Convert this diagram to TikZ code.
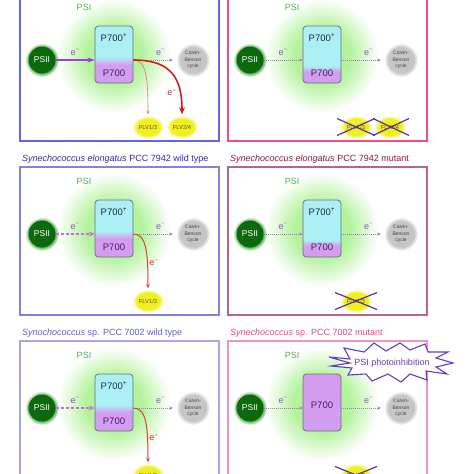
\documentclass[tikz,border=0pt]{standalone}
\usepackage{fontspec}
\setmainfont{Liberation Sans}
\usetikzlibrary{shapes.geometric,arrows.meta,calc}

\definecolor{glowc}{RGB}{178,243,155}
\definecolor{pcyan}{RGB}{172,240,246}
\definecolor{pvio}{RGB}{212,158,240}
\definecolor{pborder}{RGB}{110,110,130}
\definecolor{psiidark}{RGB}{14,104,14}
\definecolor{psiiglow}{RGB}{80,175,80}
\definecolor{calg}{RGB}{198,198,198}
\definecolor{caltext}{RGB}{70,70,70}
\definecolor{yel}{RGB}{240,240,32}
\definecolor{flvtext}{RGB}{95,85,20}
\definecolor{psigreen}{RGB}{80,178,80}
\definecolor{ptopc}{RGB}{30,45,80}
\definecolor{pbotc}{RGB}{75,25,110}
\definecolor{elabc}{RGB}{150,80,200}
\definecolor{esolidc}{RGB}{165,60,215}
\definecolor{edashc}{RGB}{195,110,225}
\definecolor{edotc}{RGB}{165,115,200}
\definecolor{rthickc}{RGB}{212,30,30}
\definecolor{rthinc}{RGB}{230,120,90}
\definecolor{rmedc}{RGB}{222,65,45}
\definecolor{rlabc}{RGB}{210,50,55}
\definecolor{xc}{RGB}{90,50,170}
\definecolor{tlcol}{RGB}{100,100,230}
\definecolor{trcol}{RGB}{236,80,130}
\definecolor{mlcol}{RGB}{130,130,225}
\definecolor{mrcol}{RGB}{185,100,135}
\definecolor{blcol}{RGB}{165,165,240}
\definecolor{brcol}{RGB}{242,145,200}
\definecolor{mlcap}{RGB}{45,45,160}
\definecolor{mrcap}{RGB}{135,25,65}
\definecolor{blcap}{RGB}{95,95,195}
\definecolor{brcap}{RGB}{235,70,130}
\definecolor{burstc}{RGB}{100,60,190}
\definecolor{bursttext}{RGB}{110,60,180}

\pgfdeclareradialshading{glow}{\pgfpointorigin}{color(0bp)=(glowc); color(12bp)=(glowc); color(25bp)=(white); color(50bp)=(white)}
\pgfdeclareradialshading{gglow}{\pgfpointorigin}{color(0bp)=(psiiglow); color(19bp)=(psiiglow); color(25bp)=(white); color(50bp)=(white)}
\pgfdeclareradialshading{cglow}{\pgfpointorigin}{color(0bp)=(calg); color(19bp)=(calg); color(25bp)=(white); color(50bp)=(white)}
\pgfdeclareradialshading{yglow}{\pgfpointorigin}{color(0bp)=(yel); color(18bp)=(yel); color(25bp)=(white); color(50bp)=(white)}
\pgfdeclareverticalshading{pwt}{100bp}{color(0bp)=(pvio); color(41bp)=(pvio); color(48bp)=(pcyan); color(100bp)=(pcyan)}
\pgfdeclareverticalshading{pmut}{100bp}{color(0bp)=(pvio); color(35bp)=(pvio); color(40bp)=(pcyan); color(100bp)=(pcyan)}

\newcommand\myelec{e\textsuperscript{−}}

\tikzset{
  pslabel/.style={text=psigreen, font=\fontsize{9}{9}\selectfont, inner sep=0pt},
  psiinode/.style={circle, fill=psiidark, text=white, minimum size=27pt, inner sep=0pt, font=\fontsize{8.5}{8.5}\selectfont},
  calnode/.style={circle, minimum size=28pt, inner sep=0pt, align=center, text=caltext, font=\fontsize{5}{6.5}\selectfont},
  pbox/.style={rectangle, rounded corners=3.5pt, minimum width=38pt, minimum height=57pt, draw=pborder, line width=0.8pt, inner sep=0pt},
  ptop/.style={anchor=base, text=ptopc, font=\fontsize{9.5}{9.5}\selectfont, inner sep=0pt},
  pbot/.style={anchor=base, text=pbotc, font=\fontsize{9.5}{9.5}\selectfont, inner sep=0pt},
  flv/.style={ellipse, minimum width=24pt, minimum height=17pt, inner sep=0pt, text=flvtext, font=\fontsize{5.8}{5.8}\selectfont},
  esolid/.style={draw=esolidc, line width=1.3pt, -{Stealth[length=7pt,width=5pt]}},
  edash/.style={draw=edashc, line width=1.1pt, dash pattern=on 3pt off 2pt, -{Stealth[length=6pt,width=5pt]}},
  edot/.style={draw=edotc, line width=0.7pt, dash pattern=on 1pt off 1pt, -{Stealth[length=3.5pt,width=3pt]}},
  rthick/.style={draw=rthickc, line width=1.6pt, shorten >=4pt, -{Stealth[length=7pt,width=6pt]}},
  rthin/.style={draw=rthinc, line width=0.6pt, shorten >=4pt, -{Stealth[length=3.5pt,width=3pt]}},
  rmed/.style={draw=rmedc, line width=1pt, shorten >=4pt, -{Stealth[length=4.5pt,width=3.5pt]}},
  elab/.style={midway, above=4pt, inner sep=0pt, text=elabc, font=\fontsize{9}{9}\selectfont},
  rlab/.style={inner sep=0pt, text=rlabc, font=\fontsize{9}{9}\selectfont},
  xcross/.style={draw=xc, line width=1.2pt},
  capt/.style={anchor=base west, inner sep=0pt, font=\fontsize{9}{9}\selectfont},
}

\newcommand\panelbase[3]{%
  \draw[line width=1.5pt, #2] (20,-7) rectangle (219,141);
  \shade[shading=glow] (114,56) circle (57pt);
  \node[pslabel] (#1psi) at (84,7.5) {PSI};
  \shade[shading=gglow] (42,60) circle (17pt);
  \node[psiinode] (#1psii) at (42,60) {PSII};
  \shade[shading=cglow] (193,60) circle (17pt);
  \node[calnode] (#1cal) at (193,60) {Calvin-\\Benson\\cycle};
  \node[pbox, #3] (#1p) at (114,54.5) {};
}
\newcommand\flvglow[2]{\shade[shading=yglow] (#1,#2) ellipse [x radius=16pt, y radius=11.5pt];}

\begin{document}
\begin{tikzpicture}[x=1pt,y=-1pt]
\clip (0,0) rectangle (474,474);
\fill[white] (0,0) rectangle (474,474);

% ---------- top left ----------
\panelbase{a}{tlcol}{shading=pwt}
\node[ptop] (apt) at (114,41) {P700\textsuperscript{+}};
\node[pbot] (apb) at (114,76) {P700};
\flvglow{148}{127}\flvglow{182}{127}
\node[flv] (aflva) at (148,127) {FLV1/3};
\node[flv] (aflvb) at (182,127) {FLV2/4};
\draw[esolid] (apsii.east) -- node[elab]{\myelec} (apsii.east -| ap.west);
\draw[edot, shorten >=6pt] (ap.east |- acal.west) -- node[elab, pos=0.6]{\myelec} (acal.west);
\draw[rthin] (ap.east |- acal.west) .. controls +(13,0) and +(0,-40) .. (aflva.north);
\draw[rthick] (ap.east |- acal.west) .. controls +(38,0) and +(0,-40) .. (aflvb.north);
\node[rlab] (ar) at (172,93) {\myelec};

% ---------- top right ----------
\begin{scope}[shift={(208,0)}]
\panelbase{b}{trcol}{shading=pmut}
\node[ptop] (bpt) at (114,41) {P700\textsuperscript{+}};
\node[pbot] (bpb) at (114,76) {P700};
\flvglow{148}{127}\flvglow{182}{127}
\node[flv] (bflva) at (148,127) {FLV1/3};
\node[flv] (bflvb) at (182,127) {FLV2/4};
\draw[edot] (bpsii.east) -- node[elab]{\myelec} (bpsii.east -| bp.west);
\draw[edot, shorten >=6pt] (bp.east |- bcal.west) -- node[elab, pos=0.6]{\myelec} (bcal.west);
\draw[xcross] ([shift={(-19,-8.5)}]bflva.center) -- ([shift={(19,8.5)}]bflva.center);
\draw[xcross] ([shift={(-19,8.5)}]bflva.center) -- ([shift={(19,-8.5)}]bflva.center);
\draw[xcross] ([shift={(-17,-8.5)}]bflvb.center) -- ([shift={(19,8.5)}]bflvb.center);
\draw[xcross] ([shift={(-17,8.5)}]bflvb.center) -- ([shift={(19,-8.5)}]bflvb.center);
\end{scope}

% ---------- captions row 2 ----------
\node[capt, text=mlcap] (cap1) at (22,161.5) {\textit{Synechococcus elongatus} PCC 7942 wild type};
\node[capt, text=mrcap] (cap2) at (230,161.5) {\textit{Synechococcus elongatus} PCC 7942 mutant};

% ---------- middle left ----------
\begin{scope}[shift={(0,174)}]
\panelbase{c}{mlcol}{shading=pwt}
\node[ptop] (cpt) at (114,41) {P700\textsuperscript{+}};
\node[pbot] (cpb) at (114,76) {P700};
\flvglow{148}{127}
\node[flv] (cflva) at (148,127) {FLV1/3};
\draw[edash] (cpsii.east) -- node[elab]{\myelec} (cpsii.east -| cp.west);
\draw[edot, shorten >=6pt] (cp.east |- ccal.west) -- node[elab, pos=0.6]{\myelec} (ccal.west);
\draw[rmed] (cp.east |- ccal.west) .. controls +(13,0) and +(0,-40) .. (cflva.north);
\node[rlab] (cr) at (154,89) {\myelec};
\end{scope}

% ---------- middle right ----------
\begin{scope}[shift={(208,174)}]
\panelbase{d}{mrcol}{shading=pmut}
\node[ptop] (dpt) at (114,41) {P700\textsuperscript{+}};
\node[pbot] (dpb) at (114,76) {P700};
\flvglow{148}{127}
\node[flv] (dflva) at (148,127) {FLV1/3};
\draw[edot] (dpsii.east) -- node[elab]{\myelec} (dpsii.east -| dp.west);
\draw[edot, shorten >=6pt] (dp.east |- dcal.west) -- node[elab, pos=0.6]{\myelec} (dcal.west);
\draw[xcross] ([shift={(-21,-8.5)}]dflva.center) -- ([shift={(21,8.5)}]dflva.center);
\draw[xcross] ([shift={(-21,8.5)}]dflva.center) -- ([shift={(21,-8.5)}]dflva.center);
\end{scope}

% ---------- captions row 3 ----------
\node[capt, text=blcap] (cap3) at (22,335.5) {\textit{Synochococcus} sp. PCC 7002 wild type};
\node[capt, text=brcap] (cap4) at (230,335.5) {\textit{Synechococcus} sp. PCC 7002 mutant};

% ---------- bottom left ----------
\begin{scope}[shift={(0,348)}]
\panelbase{e}{blcol}{shading=pwt}
\node[ptop] (ept) at (114,41) {P700\textsuperscript{+}};
\node[pbot] (epb) at (114,76) {P700};
\flvglow{148}{127}
\node[flv] (eflva) at (148,127) {FLV1/3};
\draw[edash] (epsii.east) -- node[elab]{\myelec} (epsii.east -| ep.west);
\draw[edot, shorten >=6pt] (ep.east |- ecal.west) -- node[elab, pos=0.6]{\myelec} (ecal.west);
\draw[rmed] (ep.east |- ecal.west) .. controls +(13,0) and +(0,-40) .. (eflva.north);
\node[rlab] (er) at (154,90) {\myelec};
\end{scope}

% ---------- bottom right ----------
\begin{scope}[shift={(208,348)}]
\panelbase{f}{brcol}{fill=pvio}
\node[pbot] (fpb) at (114,60) {P700};
\flvglow{148}{127}
\node[flv] (fflva) at (148,127) {FLV1/3};
\draw[edot] (fpsii.east) -- node[elab]{\myelec} (fpsii.east -| fp.west);
\draw[edot, shorten >=6pt] (fp.east |- fcal.west) -- node[elab, pos=0.6]{\myelec} (fcal.west);
\draw[xcross] ([shift={(-21,-8.5)}]fflva.center) -- ([shift={(21,8.5)}]fflva.center);
\draw[xcross] ([shift={(-21,8.5)}]fflva.center) -- ([shift={(21,-8.5)}]fflva.center);
\end{scope}

% ---------- starburst ----------
\draw[fill=white, draw=burstc, line width=1.1pt, line join=miter]
 (329,357) -- (350,359) -- (344,348) -- (364,352) -- (374,343) -- (386,351) --
 (400,343) -- (410,350) -- (425,344) -- (428,352) -- (448,352) -- (436,358) --
 (453,363) -- (436,367) -- (447,374) -- (426,371) -- (427,380) -- (410,374) --
 (401,382) -- (388,374) -- (372,381) -- (366,374) -- (348,375) -- (352,368) --
 (331,366) -- (350,363) -- cycle;
\node[inner sep=0pt, text=bursttext, font=\fontsize{9}{9}\selectfont] (photo) at (392,363) {PSI photoinhibition};
\end{tikzpicture}
\end{document}
